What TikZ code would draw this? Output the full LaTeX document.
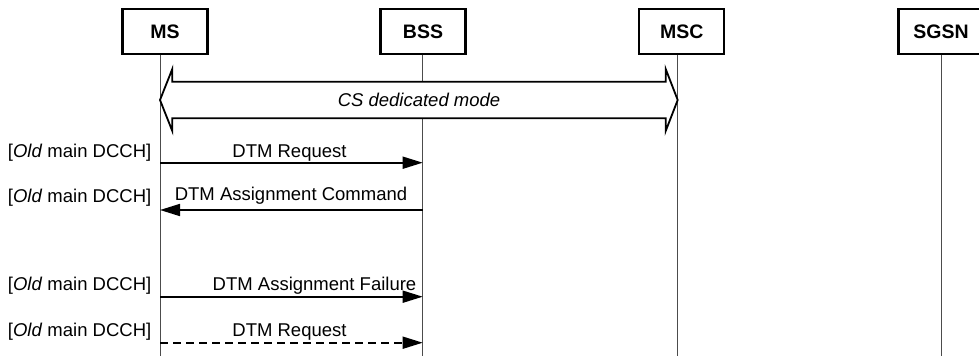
\documentclass[tikz,border=0pt]{standalone}
\usepackage{fontspec}
\setmainfont{Liberation Sans}
\usetikzlibrary{arrows.meta}
\begin{document}
\begin{tikzpicture}[x=1pt,y=-1pt,
  entity/.style={draw,line width=2.2pt,minimum width=85pt,minimum height=45pt,inner sep=0pt,font=\fontsize{19.5}{22}\selectfont\bfseries},
  lifeline/.style={draw=black!70,line width=1pt},
  msg/.style={line width=1.7pt,-{Triangle[length=20pt,width=12pt]}},
  lbl/.style={font=\fontsize{18.5}{22}\selectfont,inner sep=0pt},
  side/.style={font=\fontsize{18.5}{22}\selectfont,inner sep=0pt,anchor=east}]
\useasboundingbox (0,0) rectangle (979,356);
\begin{scope}
\clip (0,0) rectangle (979,356);
% entities
\node[entity] (ms)   at (165,31.7)  {MS};
\node[entity] (bss)  at (423,31.7)  {BSS};
\node[entity] (msc)  at (681.7,31.7){MSC};
\node[entity] (sgsn) at (941,31.7)  {SGSN};
\end{scope}
% lifelines
\coordinate (mst) at (160,54.5);   \coordinate (msb) at (160,356);
\coordinate (bsst) at (422.7,54.5); \coordinate (bssb) at (422.7,356);
\coordinate (msct) at (677.7,54.5); \coordinate (mscb) at (677.7,356);
\coordinate (sgt) at (941,54.5);   \coordinate (sgb) at (941,356);
\draw[lifeline] (mst) -- (msb);
\draw[lifeline] (bsst) -- (bssb);
\draw[lifeline] (msct) -- (mscb);
\draw[lifeline] (sgt) -- (sgb);
% CS dedicated mode double arrow
\draw[line width=1.8pt,fill=white] (160,100) -- (172.3,69) -- (172.3,81.7) -- (665.7,81.7) -- (665.7,69) -- (677.7,100) -- (665.7,131) -- (665.7,118.3) -- (172.3,118.3) -- (172.3,131) -- cycle;
\node[lbl,font=\fontsize{18.5}{22}\selectfont\itshape] (cs) at (419,100) {CS dedicated mode};
% message rows
\coordinate (a1) at (160,162.7); \coordinate (b1) at (422.7,162.7);
\coordinate (a2) at (160,210);   \coordinate (b2) at (422.7,210);
\coordinate (a3) at (160,296.7); \coordinate (b3) at (422.7,296.7);
\coordinate (a4) at (160,342.7); \coordinate (b4) at (422.7,342.7);
\draw[msg] (a1) -- (b1);
\draw[msg] (b2) -- (a2);
\draw[msg] (a3) -- (b3);
\draw[msg,dashed,dash pattern=on 8pt off 5pt] (a4) -- (b4);
\node[lbl] (m1) at (289.5,153) {DTM Request};
\node[lbl] (m2) at (291,196) {DTM Assignment Command};
\node[lbl] (m3) at (314.5,286) {DTM Assignment Failure};
\node[lbl] (m4) at (289.5,331.7) {DTM Request};
\node[side] (s1) at (151.5,152.5) {[\textit{Old} main DCCH]};
\node[side] (s2) at (151.5,197.3) {[\textit{Old} main DCCH]};
\node[side] (s3) at (151.5,286) {[\textit{Old} main DCCH]};
\node[side] (s4) at (151.5,331.7) {[\textit{Old} main DCCH]};
\end{tikzpicture}
\end{document}
